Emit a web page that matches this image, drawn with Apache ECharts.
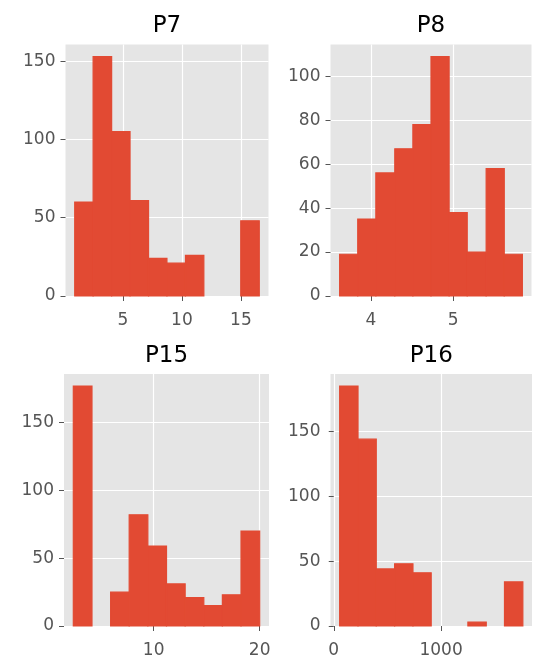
<!DOCTYPE html>
<html>
<head>
<meta charset="utf-8">
<script src="https://cdn.jsdelivr.net/npm/echarts@6/dist/echarts.min.js"></script>
<style>html,body{margin:0;padding:0;background:#fff;}#c{width:544px;height:659px;}</style>
</head>
<body>
<div id="c"></div>
<script>
// ---- data ----
const titles = ['P7', 'P8', 'P15', 'P16'];

const p7Edges  = [0.91, 2.47, 4.04, 5.60, 7.17, 8.73, 10.30, 11.86, 13.43, 14.99, 16.56];
const p7Counts = [60, 153, 105, 61, 24, 21, 26, 0, 0, 48];

const p8Edges  = [3.62, 3.84, 4.06, 4.29, 4.51, 4.73, 4.95, 5.17, 5.40, 5.62, 5.84];
const p8Counts = [19, 35, 56, 67, 78, 109, 38, 20, 58, 19];

const p15Edges  = [2.42, 4.18, 5.94, 7.69, 9.45, 11.21, 12.97, 14.73, 16.48, 18.24, 20.00];
const p15Counts = [177, 0, 25, 82, 59, 31, 21, 15, 23, 70];

const p16Edges  = [55, 226, 396, 567, 738, 908, 1079, 1250, 1421, 1591, 1762];
const p16Counts = [185, 144, 44, 48, 41, 0, 0, 3, 0, 34];

const p7XTicks = [5, 10, 15],  p7YTicks = [0, 50, 100, 150];
const p8XTicks = [4, 5],       p8YTicks = [0, 20, 40, 60, 80, 100];
const p15XTicks = [10, 20],    p15YTicks = [0, 50, 100, 150];
const p16XTicks = [0, 1000],   p16YTicks = [0, 50, 100, 150];

// ---- layout ----
const panels = [
  {edges: p7Edges,  counts: p7Counts,  xt: p7XTicks,  yt: p7YTicks,  grid: {left: 65.5, top: 44.5, width: 203, height: 251.5}},
  {edges: p8Edges,  counts: p8Counts,  xt: p8XTicks,  yt: p8YTicks,  grid: {left: 330.5, top: 44.5, width: 201, height: 251.5}},
  {edges: p15Edges, counts: p15Counts, xt: p15XTicks, yt: p15YTicks, grid: {left: 64, top: 374, width: 205, height: 252}},
  {edges: p16Edges, counts: p16Counts, xt: p16XTicks, yt: p16YTicks, grid: {left: 330.5, top: 374, width: 201.5, height: 252}}
];

const FONT = 'DejaVu Sans';
const grids = [], xAxes = [], yAxes = [], series = [], graphics = [];
const plain = v => String(v);

panels.forEach((p, i) => {
  const lo = p.edges[0], hi = p.edges[p.edges.length - 1];
  const m = (hi - lo) * 0.05;
  const ymax = Math.max.apply(null, p.counts) * 1.05;
  grids.push(Object.assign({show: true, backgroundColor: '#E5E5E5', borderWidth: 0, containLabel: false}, p.grid));
  xAxes.push({
    type: 'value', gridIndex: i, min: lo - m, max: hi + m,
    axisLine: {show: false},
    axisTick: {show: true, length: 5, lineStyle: {color: '#555', width: 1}, customValues: p.xt},
    axisLabel: {color: '#555', fontFamily: FONT, fontSize: 17, margin: 16, customValues: p.xt, formatter: plain},
    splitLine: {show: true, lineStyle: {color: '#ffffff', width: 1.2}}
  });
  yAxes.push({
    type: 'value', gridIndex: i, min: 0, max: ymax,
    axisLine: {show: false},
    axisTick: {show: true, length: 5, lineStyle: {color: '#555', width: 1}, customValues: p.yt},
    axisLabel: {color: '#555', fontFamily: FONT, fontSize: 17, margin: 10, customValues: p.yt, formatter: plain},
    splitLine: {show: true, lineStyle: {color: '#ffffff', width: 1.2}}
  });
  const data = p.counts.map((c, k) => [p.edges[k], p.edges[k + 1], c]);
  series.push({
    type: 'custom', xAxisIndex: i, yAxisIndex: i, data: data,
    encode: {x: [0, 1], y: 2},
    renderItem: function (params, api) {
      if (api.value(2) <= 0) return null;
      const a = api.coord([api.value(0), api.value(2)]);
      const b = api.coord([api.value(1), 0]);
      return {type: 'rect', shape: {x: a[0], y: a[1], width: b[0] - a[0], height: b[1] - a[1]},
              style: {fill: '#E24A33', stroke: '#E24A33', lineWidth: 1.2}};
    }
  });
  graphics.push({
    type: 'text', x: p.grid.left + p.grid.width / 2, y: p.grid.top - 18,
    style: {text: titles[i], font: '23px "' + FONT + '"', fill: '#000', textAlign: 'center', textVerticalAlign: 'middle'}
  });
});

const chart = echarts.init(document.getElementById('c'), null, {renderer: 'canvas'});
chart.setOption({
  animation: false,
  backgroundColor: '#ffffff',
  grid: grids, xAxis: xAxes, yAxis: yAxes, series: series,
  graphic: graphics
});
</script>
</body>
</html>
